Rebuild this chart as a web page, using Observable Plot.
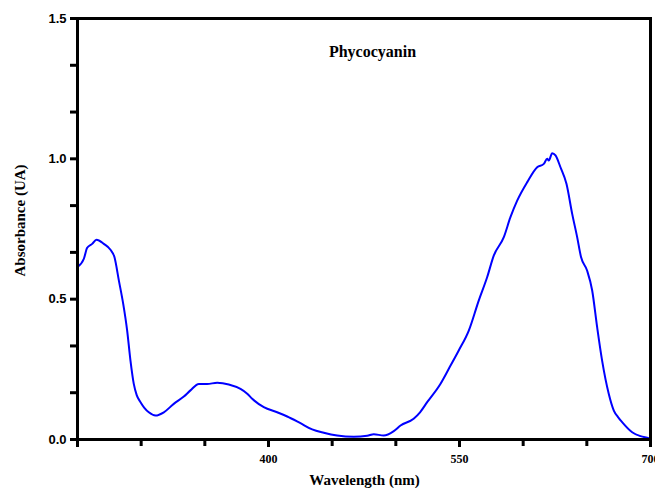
<!DOCTYPE html>
<html><head><meta charset="utf-8">
<script src="https://cdn.jsdelivr.net/npm/d3@7"></script>
<script src="https://cdn.jsdelivr.net/npm/@observablehq/plot@0.6"></script>
<style>body{margin:0;background:#fff}</style>
</head><body><div id="chart"></div>
<script>
const chartTitle = "Phycocyanin";
const xTitle = "Wavelength (nm)";
const yTitle = "Absorbance (UA)";
const wavelength = [250, 255, 257.6, 261.5, 264.9, 270.7, 275.9, 279, 282.5, 285.9, 289, 291.6, 294.2, 296.5, 299.5, 302.5, 306, 311.3, 317.8, 325.6, 333.5, 338.7, 345.3, 351.8, 359.7, 368.8, 378, 383.3, 387.2, 396.3, 406.8, 414.7, 425.1, 434.3, 443.4, 453.9, 467, 477.5, 482.7, 490.5, 498.4, 503.7, 514, 519, 524.6, 535, 541.6, 549.4, 557.3, 565.1, 571.7, 576.9, 584.8, 590, 595.3, 603.2, 611, 616.2, 618.9, 620.1, 622.8, 625.4, 629.3, 634, 638.5, 642.4, 645.5, 650.2, 654.2, 658.1, 662, 667.2, 671.2, 674.5, 677.7, 685.6, 692.1, 698.6, 700];
const absorbance = [0.615, 0.644, 0.683, 0.697, 0.712, 0.697, 0.676, 0.650, 0.566, 0.483, 0.388, 0.281, 0.198, 0.158, 0.133, 0.113, 0.097, 0.0855, 0.097, 0.127, 0.153, 0.175, 0.198, 0.198, 0.202, 0.196, 0.18, 0.163, 0.145, 0.115, 0.097, 0.082, 0.058, 0.036, 0.024, 0.014, 0.0095, 0.013, 0.019, 0.014, 0.030, 0.050, 0.074, 0.097, 0.133, 0.198, 0.252, 0.317, 0.388, 0.495, 0.578, 0.655, 0.721, 0.792, 0.851, 0.917, 0.970, 0.982, 1.0, 0.994, 1.02, 1.012, 0.970, 0.911, 0.804, 0.721, 0.649, 0.602, 0.531, 0.400, 0.281, 0.163, 0.103, 0.080, 0.062, 0.026, 0.012, 0.005, 0.003];
const xMajorTicks = [250, 400, 550, 700];
const xTickLabels = ["", "400", "550", "700"];
const xMinorTicks = [300, 350, 450, 500, 600, 650];
const yMajorTicks = [0, 0.5, 1.0, 1.5];
const yTickLabels = ["0.0", "0.5", "1.0", "1.5"];
const yMinorTicks = [1/6, 2/6, 4/6, 5/6, 7/6, 8/6];

const data = wavelength.map((w, i) => ({w, a: absorbance[i]}));
const serif = "'Liberation Serif', 'Times New Roman', serif";
const sans = "'Liberation Sans', Arial, sans-serif";

const chart = Plot.plot({
  width: 655, height: 488,
  marginLeft: 77, marginRight: 5, marginTop: 18, marginBottom: 49,
  x: {domain: [250, 700]},
  y: {domain: [0, 1.5]},
  style: {background: "#fff", overflow: "visible"},
  marks: [
    Plot.line(data, {x: "w", y: "a", stroke: "#0000ff", strokeWidth: 2, curve: "monotone-x"}),
    Plot.axisX({ticks: xMajorTicks, tickFormat: d => xTickLabels[xMajorTicks.indexOf(d)], tickSize: 8, tickPadding: 7, strokeWidth: 3, fontSize: 12, fontWeight: "bold", fontFamily: serif, label: null, color: "black"}),
    Plot.axisX({ticks: xMinorTicks, tickFormat: () => "", tickSize: 7, strokeWidth: 3, label: null, color: "black"}),
    Plot.axisY({ticks: yMajorTicks, tickFormat: d => yTickLabels[yMajorTicks.indexOf(d)], tickSize: 7, tickPadding: 4, strokeWidth: 3, fontSize: 13, fontWeight: "bold", fontFamily: sans, label: null, color: "black"}),
    Plot.axisY({ticks: yMinorTicks, tickFormat: () => "", tickSize: 7, strokeWidth: 3, label: null, color: "black"}),
    Plot.frame({stroke: "black", strokeWidth: 3}),
    Plot.text([chartTitle], {frameAnchor: "top", textAnchor: "middle", lineAnchor: "middle", dx: 8.5, dy: 33, fontSize: 16, fontWeight: "bold", fontFamily: serif, fill: "black"}),
    Plot.text([xTitle], {frameAnchor: "bottom", textAnchor: "middle", lineAnchor: "middle", dx: 0.5, dy: 41, fontSize: 15, fontWeight: "bold", fontFamily: serif, fill: "black"}),
    Plot.text([yTitle], {frameAnchor: "left", textAnchor: "middle", lineAnchor: "middle", rotate: -90, dx: -57, dy: -8.5, fontSize: 15, fontWeight: "bold", fontFamily: serif, fill: "black"})
  ]
});
document.getElementById("chart").appendChild(chart);
</script>
</body></html>
